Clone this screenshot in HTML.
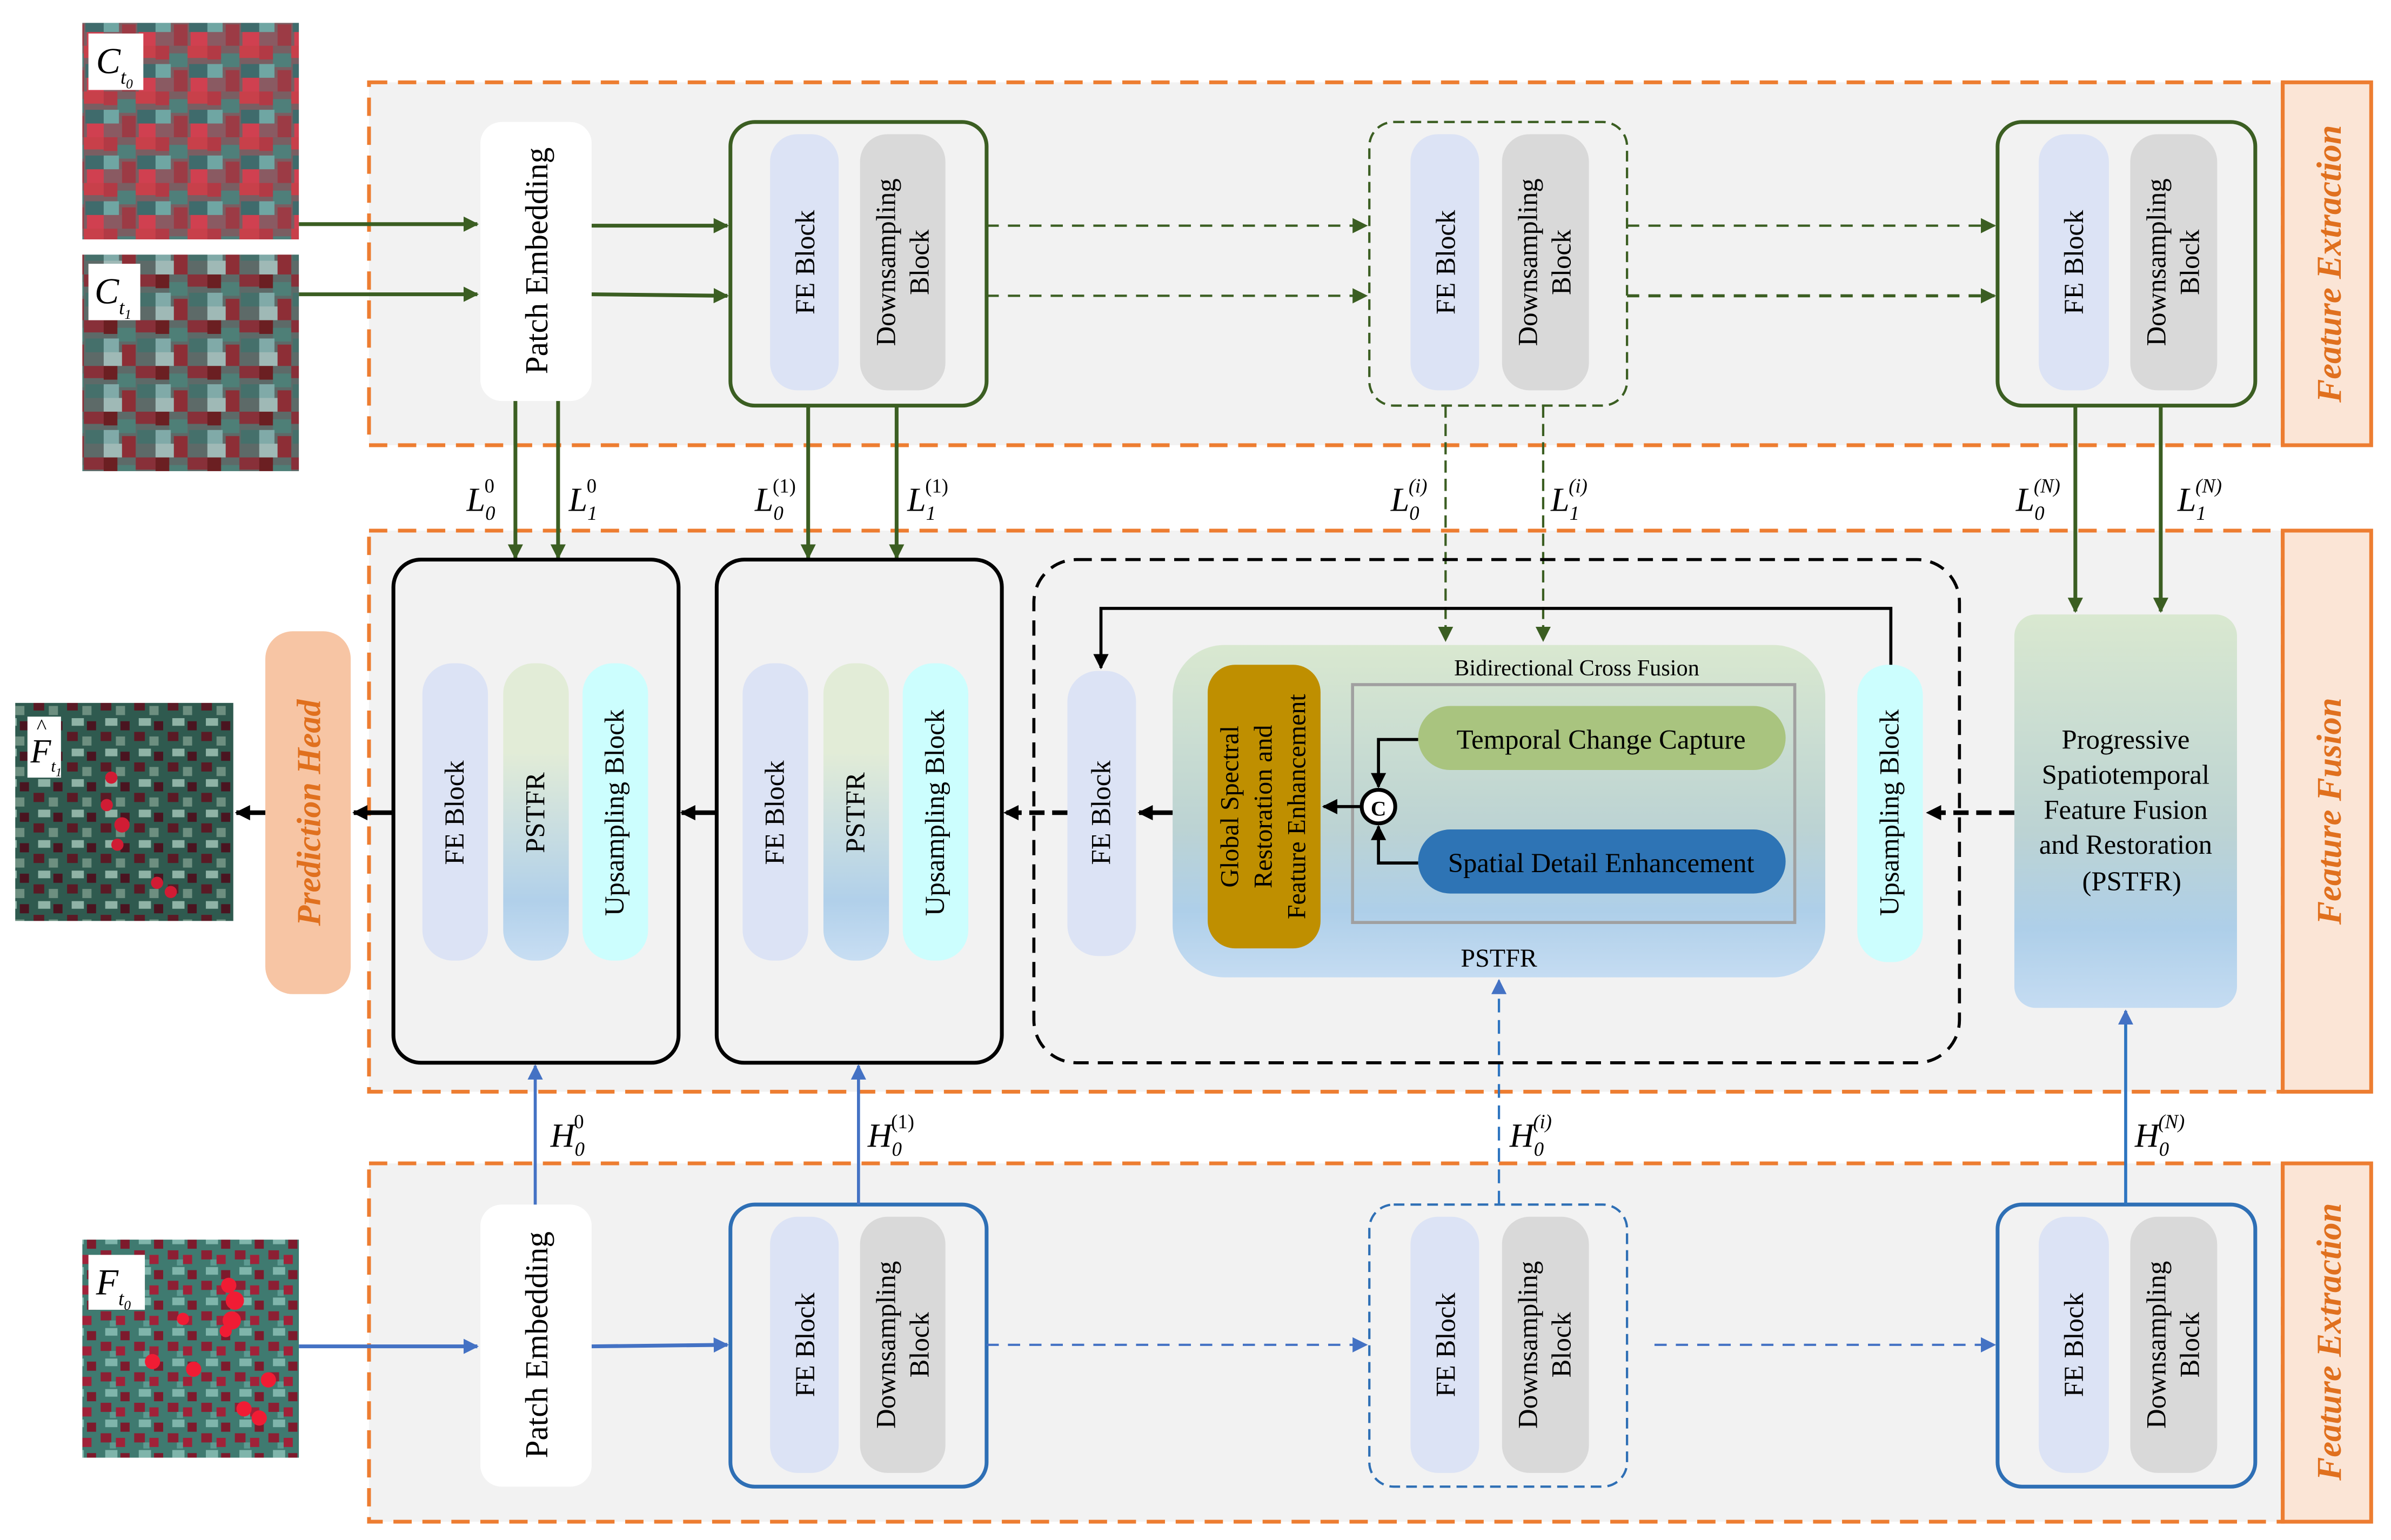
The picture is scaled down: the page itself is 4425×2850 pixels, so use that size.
<!DOCTYPE html>
<html><head><meta charset="utf-8"><style>
html,body{margin:0;padding:0;background:#fff;}
svg{display:block;}
svg text{font-family:"Liberation Serif","DejaVu Serif",serif;}
</style></head><body>
<svg width="4425" height="2850" viewBox="0 0 1568 1010" preserveAspectRatio="none" xmlns="http://www.w3.org/2000/svg" font-family="Liberation Serif, serif">
<defs>
<marker id="ag" markerWidth="10" markerHeight="10" refX="9" refY="5" orient="auto" markerUnits="userSpaceOnUse"><path d="M0,0 L10,5 L0,10 z" fill="#3b5e22"/></marker>
<marker id="ab" markerWidth="10" markerHeight="10" refX="9" refY="5" orient="auto" markerUnits="userSpaceOnUse"><path d="M0,0 L10,5 L0,10 z" fill="#4472c4"/></marker>
<marker id="ak" markerWidth="10" markerHeight="10" refX="9" refY="5" orient="auto" markerUnits="userSpaceOnUse"><path d="M0,0 L10,5 L0,10 z" fill="#000"/></marker>
<linearGradient id="gb" x1="0" y1="0" x2="0" y2="1"><stop offset="0" stop-color="#d9e8d0"/><stop offset="0.55" stop-color="#bcd3d3"/><stop offset="0.8" stop-color="#aecfe9"/><stop offset="1" stop-color="#c5dcf2"/></linearGradient>
<linearGradient id="gp" x1="0" y1="0" x2="0" y2="1"><stop offset="0" stop-color="#e2ecd7"/><stop offset="0.3" stop-color="#e2ecd7"/><stop offset="0.8" stop-color="#b1d0ea"/><stop offset="1" stop-color="#c8def3"/></linearGradient>
<pattern id="pc0" width="34" height="30" patternUnits="userSpaceOnUse"><rect width="34" height="30" fill="#7a5e62"/><rect width="9" height="9" fill="#b23a45"/><rect x="9" y="5" width="12" height="9" fill="#4f7f7a"/><rect x="21" y="0" width="13" height="8" fill="#c8404a"/><rect x="0" y="12" width="10" height="9" fill="#6fa6a3"/><rect x="12" y="16" width="9" height="14" fill="#9c3b45"/><rect x="22" y="12" width="12" height="9" fill="#3f6b6c"/><rect x="0" y="21" width="12" height="9" fill="#8a5a62"/><rect x="23" y="21" width="11" height="9" fill="#d04050"/></pattern>
<pattern id="pc1" width="34" height="30" patternUnits="userSpaceOnUse"><rect width="34" height="30" fill="#5d6a68"/><rect width="9" height="9" fill="#6b1f22"/><rect x="9" y="5" width="12" height="9" fill="#4e7f77"/><rect x="21" y="0" width="13" height="8" fill="#883039"/><rect x="0" y="12" width="10" height="9" fill="#80aaa8"/><rect x="12" y="16" width="9" height="14" fill="#8d2e36"/><rect x="22" y="12" width="12" height="9" fill="#45706b"/><rect x="0" y="21" width="12" height="9" fill="#9fb9b6"/></pattern>
<pattern id="pf" width="22" height="20" patternUnits="userSpaceOnUse"><rect width="22" height="20" fill="#3f7a70"/><rect x="0" y="0" width="7" height="6" fill="#8c1f33"/><rect x="10" y="3" width="6" height="6" fill="#a12239"/><rect x="3" y="11" width="8" height="5" fill="#7fb5ab"/><rect x="13" y="13" width="6" height="6" fill="#7d1a2c"/><rect x="6" y="6" width="4" height="4" fill="#5c9a91"/></pattern>
<pattern id="pf2" width="22" height="20" patternUnits="userSpaceOnUse"><rect width="22" height="20" fill="#2f5a4f"/><rect x="0" y="0" width="7" height="6" fill="#5a1a25"/><rect x="10" y="3" width="6" height="6" fill="#6d8f80"/><rect x="3" y="11" width="8" height="5" fill="#8fb3a6"/><rect x="13" y="13" width="6" height="6" fill="#4a1420"/></pattern>
</defs>

<rect x="54" y="15" width="142" height="142" fill="url(#pc0)"/>
<rect x="54" y="167" width="142" height="142" fill="url(#pc1)"/>
<rect x="54" y="813" width="142" height="143" fill="url(#pf)"/>
<g fill="#f01c34"><circle cx="150" cy="843" r="5"/><circle cx="154" cy="853" r="6"/><circle cx="152" cy="866" r="6"/><circle cx="176" cy="905" r="5"/><circle cx="160" cy="924" r="5"/><circle cx="170" cy="930" r="5"/><circle cx="120" cy="865" r="4"/><circle cx="127" cy="898" r="5"/><circle cx="148" cy="873" r="4"/><circle cx="100" cy="893" r="5"/></g>
<rect x="10" y="461" width="143" height="143" fill="url(#pf2)"/>
<g fill="#d01c34"><circle cx="73" cy="510" r="4"/><circle cx="80" cy="541" r="5"/><circle cx="77" cy="554" r="4"/><circle cx="103" cy="579" r="4"/><circle cx="112" cy="585" r="4"/><circle cx="70" cy="528" r="4"/></g>
<rect x="58" y="22" width="36" height="37" fill="#fff"/>
<text x="63" y="48" font-size="24" font-style="italic">C<tspan font-size="13" dy="7">t</tspan><tspan font-size="9" dy="3">0</tspan></text>
<rect x="58" y="173" width="34" height="37" fill="#fff"/>
<text x="62" y="199" font-size="24" font-style="italic">C<tspan font-size="13" dy="7">t</tspan><tspan font-size="9" dy="3">1</tspan></text>
<rect x="58" y="823" width="37" height="36" fill="#fff"/>
<text x="63" y="849" font-size="24" font-style="italic">F<tspan font-size="13" dy="7">t</tspan><tspan font-size="9" dy="3">0</tspan></text>
<rect x="18" y="470" width="22" height="40" fill="#fff"/>
<text x="20" y="500" font-size="22" font-style="italic">F<tspan font-size="11" dy="6">t</tspan><tspan font-size="8" dy="3">1</tspan></text>
<text x="24" y="481" font-size="14">^</text>

<g stroke="#ed7d31" stroke-width="2.5" stroke-dasharray="12,7" fill="#f2f2f2">
<rect x="242" y="54" width="1255" height="238"/>
<rect x="242" y="348" width="1255" height="368"/>
<rect x="242" y="763" width="1255" height="235"/>
</g>
<g stroke="#ed7d31" stroke-width="2.5" fill="#fbe5d6">
<rect x="1497" y="54" width="58" height="238"/>
<rect x="1497" y="348" width="58" height="368"/>
<rect x="1497" y="763" width="58" height="235"/>
</g>
<g font-size="23" font-weight="bold" font-style="italic" fill="#e0701e" text-anchor="middle">
<text transform="translate(1535,173) rotate(-90)">Feature Extraction</text>
<text transform="translate(1535,532) rotate(-90)">Feature Fusion</text>
<text transform="translate(1535,880) rotate(-90)">Feature Extraction</text>
</g>

<rect x="315" y="80" width="73" height="183" rx="14" fill="#fff"/>
<text transform="translate(359,171) rotate(-90)" font-size="21" text-anchor="middle">Patch Embedding</text>
<rect x="479" y="80" width="168" height="186" rx="16" fill="#f2f2f2" stroke="#3b5e22" stroke-width="2.5"/>
<rect x="898" y="80" width="169" height="186" rx="16" fill="#f2f2f2" stroke="#3b5e22" stroke-width="1.5" stroke-dasharray="7,4"/>
<rect x="1310" y="80" width="169" height="186" rx="16" fill="#f2f2f2" stroke="#3b5e22" stroke-width="2.5"/>
<rect x="315" y="790" width="73" height="185" rx="14" fill="#fff"/>
<text transform="translate(359,882) rotate(-90)" font-size="21" text-anchor="middle">Patch Embedding</text>
<rect x="479" y="790" width="168" height="185" rx="16" fill="#f2f2f2" stroke="#2e6fb5" stroke-width="2.5"/>
<rect x="898" y="790" width="169" height="185" rx="16" fill="#f2f2f2" stroke="#2e6fb5" stroke-width="1.5" stroke-dasharray="7,4"/>
<rect x="1310" y="790" width="169" height="185" rx="16" fill="#f2f2f2" stroke="#2e6fb5" stroke-width="2.5"/>

<g font-size="18" text-anchor="middle">
<rect x="505" y="88" width="45" height="168" rx="18" fill="#dce3f5"/><rect x="564" y="88" width="56" height="168" rx="18" fill="#d9d9d9"/>
<rect x="925" y="88" width="45" height="168" rx="18" fill="#dce3f5"/><rect x="985" y="88" width="57" height="168" rx="18" fill="#d9d9d9"/>
<rect x="1337" y="88" width="46" height="168" rx="18" fill="#dce3f5"/><rect x="1397" y="88" width="57" height="168" rx="18" fill="#d9d9d9"/>
<text transform="translate(534,172) rotate(-90)">FE Block</text>
<text transform="translate(587,172) rotate(-90)">Downsampling</text><text transform="translate(609,172) rotate(-90)">Block</text>
<text transform="translate(954,172) rotate(-90)">FE Block</text>
<text transform="translate(1008,172) rotate(-90)">Downsampling</text><text transform="translate(1030,172) rotate(-90)">Block</text>
<text transform="translate(1366,172) rotate(-90)">FE Block</text>
<text transform="translate(1420,172) rotate(-90)">Downsampling</text><text transform="translate(1442,172) rotate(-90)">Block</text>
<rect x="505" y="798" width="45" height="168" rx="18" fill="#dce3f5"/><rect x="564" y="798" width="56" height="168" rx="18" fill="#d9d9d9"/>
<rect x="925" y="798" width="45" height="168" rx="18" fill="#dce3f5"/><rect x="985" y="798" width="57" height="168" rx="18" fill="#d9d9d9"/>
<rect x="1337" y="798" width="46" height="168" rx="18" fill="#dce3f5"/><rect x="1397" y="798" width="57" height="168" rx="18" fill="#d9d9d9"/>
<text transform="translate(534,882) rotate(-90)">FE Block</text>
<text transform="translate(587,882) rotate(-90)">Downsampling</text><text transform="translate(609,882) rotate(-90)">Block</text>
<text transform="translate(954,882) rotate(-90)">FE Block</text>
<text transform="translate(1008,882) rotate(-90)">Downsampling</text><text transform="translate(1030,882) rotate(-90)">Block</text>
<text transform="translate(1366,882) rotate(-90)">FE Block</text>
<text transform="translate(1420,882) rotate(-90)">Downsampling</text><text transform="translate(1442,882) rotate(-90)">Block</text>
</g>

<g stroke="#3b5e22" stroke-width="2.5" fill="none">
<line x1="196" y1="147" x2="313" y2="147" marker-end="url(#ag)"/>
<line x1="196" y1="193" x2="313" y2="193" marker-end="url(#ag)"/>
<line x1="388" y1="148" x2="477" y2="148" marker-end="url(#ag)"/>
<line x1="388" y1="193" x2="477" y2="194" marker-end="url(#ag)"/>
<line x1="647" y1="148" x2="896" y2="148" stroke-width="1.5" stroke-dasharray="8,6" marker-end="url(#ag)"/>
<line x1="647" y1="194" x2="896" y2="194" stroke-width="1.5" stroke-dasharray="8,6" marker-end="url(#ag)"/>
<line x1="1067" y1="148" x2="1308" y2="148" stroke-width="1.5" stroke-dasharray="8,6" marker-end="url(#ag)"/>
<line x1="1067" y1="194" x2="1308" y2="194" stroke-width="2" stroke-dasharray="8,6" marker-end="url(#ag)"/>
<line x1="338" y1="263" x2="338" y2="366" marker-end="url(#ag)"/>
<line x1="366" y1="263" x2="366" y2="366" marker-end="url(#ag)"/>
<line x1="530" y1="266" x2="530" y2="366" marker-end="url(#ag)"/>
<line x1="588" y1="266" x2="588" y2="366" marker-end="url(#ag)"/>
<line x1="948" y1="266" x2="948" y2="420" stroke-width="1.5" stroke-dasharray="8,4" marker-end="url(#ag)"/>
<line x1="1012" y1="266" x2="1012" y2="420" stroke-width="1.5" stroke-dasharray="8,4" marker-end="url(#ag)"/>
<line x1="1361" y1="266" x2="1361" y2="401" marker-end="url(#ag)"/>
<line x1="1417" y1="266" x2="1417" y2="401" marker-end="url(#ag)"/>
</g>
<g font-size="22" font-style="italic">
<text x="306" y="335">L<tspan font-size="13" dy="6">0</tspan><tspan font-size="13" dx="-7" dy="-18" font-style="normal">0</tspan></text>
<text x="373" y="335">L<tspan font-size="13" dy="6">1</tspan><tspan font-size="13" dx="-7" dy="-18" font-style="normal">0</tspan></text>
<text x="495" y="335">L<tspan font-size="13" dy="6">0</tspan><tspan font-size="13" dx="-7" dy="-18" font-style="normal">(1)</tspan></text>
<text x="595" y="335">L<tspan font-size="13" dy="6">1</tspan><tspan font-size="13" dx="-7" dy="-18" font-style="normal">(1)</tspan></text>
<text x="912" y="335">L<tspan font-size="13" dy="6">0</tspan><tspan font-size="13" dx="-7" dy="-18">(i)</tspan></text>
<text x="1017" y="335">L<tspan font-size="13" dy="6">1</tspan><tspan font-size="13" dx="-7" dy="-18">(i)</tspan></text>
<text x="1322" y="335">L<tspan font-size="13" dy="6">0</tspan><tspan font-size="13" dx="-7" dy="-18">(N)</tspan></text>
<text x="1428" y="335">L<tspan font-size="13" dy="6">1</tspan><tspan font-size="13" dx="-7" dy="-18">(N)</tspan></text>
</g>

<g stroke="#4472c4" stroke-width="2.5" fill="none">
<line x1="196" y1="883" x2="313" y2="883" marker-end="url(#ab)"/>
<line x1="388" y1="883" x2="477" y2="882" marker-end="url(#ab)"/>
<line x1="647" y1="882" x2="896" y2="882" stroke-width="1.5" stroke-dasharray="8,6" marker-end="url(#ab)"/>
<line x1="1085" y1="882" x2="1308" y2="882" stroke-width="1.5" stroke-dasharray="8,6" marker-end="url(#ab)"/>
<line x1="351" y1="790" x2="351" y2="699" stroke-width="2" marker-end="url(#ab)"/>
<line x1="563" y1="790" x2="563" y2="699" stroke-width="2" marker-end="url(#ab)"/>
<line x1="983" y1="790" x2="983" y2="643" stroke="#2e75c0" stroke-width="1.5" stroke-dasharray="9,5" marker-end="url(#ab)"/>
<line x1="1394" y1="790" x2="1394" y2="663" stroke="#2e75c0" stroke-width="2" marker-end="url(#ab)"/>
</g>
<g font-size="22" font-style="italic">
<text x="361" y="752">H<tspan font-size="13" dy="6">0</tspan><tspan font-size="13" dx="-7" dy="-18" font-style="normal">0</tspan></text>
<text x="569" y="752">H<tspan font-size="13" dy="6">0</tspan><tspan font-size="13" dx="-7" dy="-18" font-style="normal">(1)</tspan></text>
<text x="990" y="752">H<tspan font-size="13" dy="6">0</tspan><tspan font-size="13" dx="-7" dy="-18">(i)</tspan></text>
<text x="1400" y="752">H<tspan font-size="13" dy="6">0</tspan><tspan font-size="13" dx="-7" dy="-18">(N)</tspan></text>
</g>

<rect x="174" y="414" width="56" height="238" rx="18" fill="#f7c5a4"/>
<text transform="translate(210,533) rotate(-90)" font-size="22" font-weight="bold" font-style="italic" fill="#e0701e" text-anchor="middle">Prediction Head</text>
<rect x="258" y="367" width="187" height="330" rx="18" fill="#f2f2f2" stroke="#000" stroke-width="2.5"/>
<rect x="470" y="367" width="187" height="330" rx="18" fill="#f2f2f2" stroke="#000" stroke-width="2.5"/>
<rect x="678" y="367" width="607" height="330" rx="28" fill="none" stroke="#000" stroke-width="2" stroke-dasharray="10,6"/>
<g font-size="18" text-anchor="middle">
<rect x="277" y="435" width="43" height="195" rx="20" fill="#dce3f5"/>
<rect x="330" y="435" width="43" height="195" rx="20" fill="url(#gp)"/>
<rect x="382" y="435" width="43" height="195" rx="20" fill="#ccfefe"/>
<text transform="translate(304,533) rotate(-90)">FE Block</text>
<text transform="translate(357,533) rotate(-90)">PSTFR</text>
<text transform="translate(409,533) rotate(-90)">Upsampling Block</text>
<rect x="487" y="435" width="43" height="195" rx="20" fill="#dce3f5"/>
<rect x="540" y="435" width="43" height="195" rx="20" fill="url(#gp)"/>
<rect x="592" y="435" width="43" height="195" rx="20" fill="#ccfefe"/>
<text transform="translate(514,533) rotate(-90)">FE Block</text>
<text transform="translate(567,533) rotate(-90)">PSTFR</text>
<text transform="translate(619,533) rotate(-90)">Upsampling Block</text>
<rect x="700" y="440" width="45" height="187" rx="20" fill="#dce3f5"/>
<text transform="translate(728,533) rotate(-90)">FE Block</text>
<rect x="1218" y="436" width="43" height="195" rx="20" fill="#ccfefe"/>
<text transform="translate(1245,533) rotate(-90)">Upsampling Block</text>
</g>
<rect x="769" y="423" width="428" height="218" rx="34" fill="url(#gb)"/>
<text x="1034" y="443" font-size="15" text-anchor="middle">Bidirectional Cross Fusion</text>
<text x="983" y="634" font-size="17" text-anchor="middle">PSTFR</text>
<rect x="792" y="436" width="74" height="186" rx="18" fill="#bf8f00"/>
<g font-size="17" text-anchor="middle"><text transform="translate(812,529) rotate(-90)">Global Spectral</text><text transform="translate(834,529) rotate(-90)">Restoration and</text><text transform="translate(856,529) rotate(-90)">Feature Enhancement</text></g>
<rect x="887" y="449" width="290" height="156" fill="none" stroke="#a0a0a0" stroke-width="2"/>
<rect x="930" y="463" width="241" height="42" rx="21" fill="#a9c47f"/>
<text x="1050" y="491" font-size="18" text-anchor="middle">Temporal Change Capture</text>
<rect x="930" y="544" width="241" height="42" rx="21" fill="#2e74b5"/>
<text x="1050" y="572" font-size="18" text-anchor="middle">Spatial Detail Enhancement</text>
<g stroke="#000" stroke-width="2" fill="none">
<polyline points="930,485 904,485 904,516" marker-end="url(#ak)"/>
<polyline points="930,566 904,566 904,542" marker-end="url(#ak)"/>
<line x1="893" y1="529" x2="868" y2="529" marker-end="url(#ak)"/>
<polyline points="1240,436 1240,399 722,399 722,438" marker-end="url(#ak)"/>
</g>
<circle cx="904" cy="529" r="11" fill="#fff" stroke="#000" stroke-width="2.5"/>
<text x="904" y="535" font-size="14" font-weight="bold" text-anchor="middle" font-family="Liberation Sans, sans-serif">C</text>
<g stroke="#000" stroke-width="3" fill="none">
<line x1="1321" y1="533" x2="1264" y2="533" stroke-dasharray="10,5" marker-end="url(#ak)"/>
<line x1="769" y1="533" x2="747" y2="533" marker-end="url(#ak)"/>
<line x1="700" y1="533" x2="659" y2="533" stroke-dasharray="10,5" marker-end="url(#ak)"/>
<line x1="470" y1="533" x2="447" y2="533" marker-end="url(#ak)"/>
<line x1="258" y1="533" x2="232" y2="533" marker-end="url(#ak)"/>
<line x1="174" y1="533" x2="155" y2="533" marker-end="url(#ak)"/>
</g>
<rect x="1321" y="403" width="146" height="258" rx="14" fill="url(#gb)"/>
<g font-size="18" text-anchor="middle">
<text x="1394" y="491">Progressive</text>
<text x="1394" y="514">Spatiotemporal</text>
<text x="1394" y="537">Feature Fusion</text>
<text x="1394" y="560">and Restoration</text>
<text x="1398" y="584">(PSTFR)</text>
</g>
</svg>
</body></html>
